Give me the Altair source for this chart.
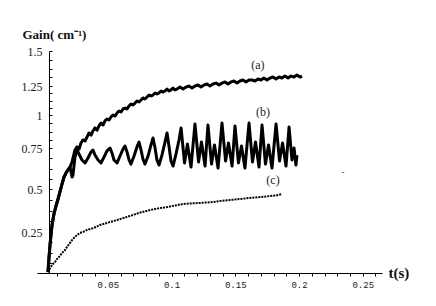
import altair as alt
import pandas as pd

# ---- data (t in s, gain in cm^-1) ----
a_t = [0.0031,0.0039,0.0047,0.0055,0.0063,0.0078,0.0094,0.0110,0.0125,0.0141,0.0157,0.0173,0.0188,0.0204,0.0220,0.0235,
       0.0243,0.0259,0.0275,0.0290,0.0306,0.0322,0.0337,0.0353,0.0369,0.0384,0.0400,0.0416,0.0431,0.0447,0.0463,0.0478,
       0.0494,0.0510,0.0525,0.0541,0.0557,0.0573,0.0588,0.0604,0.0620,0.0635,0.0651,0.0667,0.0682,0.0698,0.0714,0.0729,
       0.0745,0.0761,0.0776,0.0792,0.0808,0.0824,0.0839,0.0855,0.0871,0.0886,0.0902,0.0918,0.0933,0.0949,0.0965,0.0980,
       0.0996,0.1012,0.1027,0.1043,0.1067,0.1090,0.1114,0.1137,0.1161,0.1184,0.1208,0.1231,0.1255,0.1278,0.1302,0.1325,
       0.1349,0.1373,0.1396,0.1420,0.1443,0.1467,0.1490,0.1514,0.1537,0.1561,0.1584,0.1608,0.1631,0.1655,0.1678,0.1702,
       0.1725,0.1749,0.1773,0.1796,0.1820,0.1843,0.1867,0.1890,0.1914,0.1937,0.1961,0.1984,0.2008,0.2024]
a_v = [0.006,0.091,0.171,0.232,0.291,0.355,0.401,0.442,0.483,0.530,0.573,0.598,0.616,0.634,0.665,0.713,
       0.738,0.758,0.744,0.788,0.811,0.803,0.833,0.864,0.848,0.879,0.902,0.886,0.917,0.939,0.924,0.955,
       0.970,0.962,0.985,1.000,0.992,1.017,1.034,1.026,1.052,1.060,1.052,1.078,1.095,1.086,1.103,1.121,
       1.112,1.129,1.147,1.138,1.155,1.172,1.164,1.172,1.190,1.181,1.190,1.207,1.198,1.207,1.224,1.207,
       1.216,1.233,1.216,1.224,1.241,1.224,1.241,1.250,1.233,1.250,1.257,1.241,1.257,1.264,1.250,1.264,
       1.271,1.257,1.271,1.279,1.264,1.279,1.286,1.271,1.286,1.293,1.279,1.293,1.293,1.286,1.300,1.293,
       1.307,1.293,1.307,1.314,1.300,1.314,1.307,1.321,1.307,1.321,1.314,1.329,1.314,1.321]

b_t = [0.0031,0.0039,0.0047,0.0055,0.0063,0.0078,0.0094,0.0110,0.0125,0.0141,0.0157,0.0173,0.0188,0.0204,0.0212,0.0220,
       0.0227,0.0243,0.0259,0.0275,0.0298,0.0322,0.0345,0.0369,0.0384,0.0400,0.0424,0.0447,0.0471,0.0494,0.0518,0.0533,
       0.0549,0.0573,0.0596,0.0620,0.0635,0.0651,0.0667,0.0682,0.0706,0.0729,0.0745,0.0761,0.0776,0.0792,0.0816,0.0839,
       0.0855,0.0871,0.0886,0.0902,0.0925,0.0949,0.0965,0.0980,0.0996,0.1012,0.1035,0.1059,0.1075,0.1102,0.1125,0.1153,
       0.1184,0.1212,0.1235,0.1263,0.1286,0.1314,0.1337,0.1365,0.1396,0.1424,0.1447,0.1475,0.1498,0.1525,0.1549,0.1576,
       0.1608,0.1635,0.1659,0.1686,0.1710,0.1737,0.1761,0.1788,0.1820,0.1847,0.1871,0.1898,0.1922,0.1945,0.1961,0.1976,
       0.1984]
b_v = [0.006,0.091,0.171,0.232,0.291,0.355,0.401,0.442,0.483,0.530,0.573,0.598,0.616,0.634,0.604,0.573,
       0.585,0.695,0.738,0.713,0.677,0.659,0.689,0.726,0.738,0.707,0.677,0.659,0.695,0.732,0.750,0.720,
       0.677,0.659,0.701,0.744,0.765,0.726,0.677,0.652,0.701,0.758,0.795,0.738,0.683,0.652,0.701,0.773,
       0.826,0.750,0.677,0.646,0.707,0.795,0.864,0.765,0.671,0.640,0.713,0.811,0.902,0.659,0.780,0.634,
       0.932,0.665,0.795,0.640,0.924,0.652,0.773,0.628,0.939,0.671,0.788,0.640,0.917,0.659,0.765,0.628,
       0.939,0.665,0.795,0.634,0.924,0.652,0.773,0.628,0.932,0.671,0.788,0.640,0.909,0.677,0.750,0.646,
       0.707]

c_t = [0.0031,0.0047,0.0063,0.0086,0.0102,0.0125,0.0141,0.0165,0.0180,0.0204,0.0220,0.0243,0.0259,0.0282,0.0314,0.0337,
       0.0376,0.0408,0.0439,0.0478,0.0518,0.0573,0.0635,0.0698,0.0753,0.0831,0.0894,0.0965,0.1027,0.1090,0.1153,0.1224,
       0.1278,0.1325,0.1380,0.1459,0.1537,0.1616,0.1694,0.1773,0.1820,0.1867]
c_v = [0.006,0.030,0.049,0.067,0.085,0.104,0.122,0.140,0.159,0.183,0.201,0.220,0.232,0.244,0.253,0.262,
       0.270,0.279,0.291,0.299,0.308,0.320,0.334,0.349,0.363,0.378,0.387,0.395,0.404,0.413,0.416,0.419,
       0.422,0.424,0.430,0.436,0.442,0.448,0.453,0.459,0.462,0.471]

tag_text = ["(a)", "(b)", "(c)"]
tag_t = [0.1678, 0.1718, 0.1796]
tag_v = [1.400, 1.026, 0.555]

stray_t = [0.2345]
stray_v = [0.604]

x_ticks = [round(0.01 * i, 2) for i in range(1, 27)]
y_ticks = [0.0625 * i for i in range(1, 25)]
y_major = [0, 0.25, 0.5, 0.75, 1.0, 1.25, 1.5]

W, H = 345, 222
# the reference's value axis is unevenly spaced; reproduce it with a piecewise scale
y_range = [222, 181, 138, 97, 64, 35, 0]

xs = alt.Scale(domain=[-0.0055, 0.2651], nice=False, zero=False)
ys = alt.Scale(domain=y_major, range=y_range, nice=False, zero=False)

x_axis = alt.Axis(
    values=x_ticks,
    labelExpr="abs(datum.value*20 - round(datum.value*20)) < 0.001 ? format(datum.value, '.2~f') : ''",
    tickSize=3, tickColor="black", domainColor="black", domainWidth=1,
    labelFont="Liberation Mono", labelFontSize=9, labelColor="#222", labelPadding=4,
    labelFlush=False, labelOverlap=False, grid=False,
    title="t(s)", titleFont="Liberation Serif", titleFontSize=15, titleFontWeight="bold",
    titleColor="#111", titleAngle=0, titleAlign="left", titleBaseline="middle", titleX=351, titleY=-1,
)
y_axis_left = alt.Axis(
    values=y_ticks,
    labelExpr="abs(datum.value*4 - round(datum.value*4)) < 0.001 ? format(datum.value, '.2~f') : ''",
    ticks=False, tickSize=0, domainColor="black", domainWidth=1, offset=-12,
    labelFont="Liberation Serif", labelFontSize=12, labelColor="#222", labelPadding=7,
    labelFlush=False, labelOverlap=False, grid=False,
    title="Gain( cm⁻¹)", titleFont="Liberation Serif", titleFontSize=13, titleFontWeight="bold",
    titleColor="#111", titleAngle=0, titleAlign="left", titleBaseline="middle", titleX=-27, titleY=-17,
)
y_axis_ticks = alt.Axis(
    orient="right", values=y_ticks, labels=False, domain=False, ticks=True, tickSize=3,
    tickColor="black", offset=-(W - 12), grid=False, title="",
)

ab = pd.concat([
    pd.DataFrame({"t": a_t, "g": a_v, "s": "a"}),
    pd.DataFrame({"t": b_t, "g": b_v, "s": "b"}),
])
c = pd.DataFrame({"t": c_t, "g": c_v})
tags = pd.DataFrame({"t": tag_t, "g": tag_v, "txt": tag_text})
stray = pd.DataFrame({"t": stray_t, "g": stray_v})

lines_ab = alt.Chart(ab).mark_line(color="black", strokeWidth=3, strokeJoin="round", clip=True).encode(
    x=alt.X("t:Q", scale=xs, axis=x_axis),
    y=alt.Y("g:Q", scale=ys, axis=y_axis_left),
    detail="s:N",
    order="t:Q",
)
line_c = alt.Chart(c).mark_line(color="black", strokeWidth=2, strokeDash=[2, 1]).encode(
    x=alt.X("t:Q", scale=xs, axis=x_axis),
    y=alt.Y("g:Q", scale=ys, axis=y_axis_ticks),
    order="t:Q",
)
tag_layer = alt.Chart(tags).mark_text(font="Liberation Serif", fontSize=12, color="#222",
                                      align="center", baseline="middle").encode(
    x=alt.X("t:Q", scale=xs, axis=x_axis),
    y=alt.Y("g:Q", scale=ys, axis=None),
    text="txt:N",
)
stray_layer = alt.Chart(stray).mark_text(text="-", fontSize=9, color="#333",
                                         align="center", baseline="middle").encode(
    x=alt.X("t:Q", scale=xs, axis=x_axis),
    y=alt.Y("g:Q", scale=ys, axis=None),
)

chart = alt.layer(lines_ab, line_c, tag_layer, stray_layer).resolve_scale(
    y="shared"
).resolve_axis(y="independent").properties(
    width=W, height=H,
    autosize=alt.AutoSizeParams(type="none"),
    padding={"left": 29, "top": 43, "right": 46, "bottom": 25},
    background="white",
).configure_view(stroke=None)

chart.save("out.html", embed_options={"renderer": "svg", "actions": False})
